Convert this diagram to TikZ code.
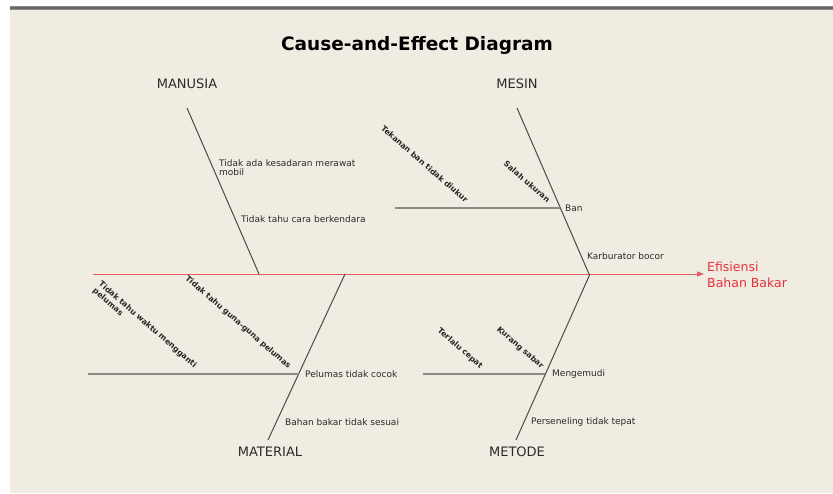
\documentclass[tikz,border=0pt]{standalone}
\usepackage{fontspec}
\setmainfont{DejaVu Sans}
\usetikzlibrary{arrows.meta}
\definecolor{bg}{HTML}{F0ECE2}
\definecolor{txt}{HTML}{2A2A2A}
\definecolor{bonec}{HTML}{4A4A48}
\definecolor{twigc}{HTML}{8C8A84}
\definecolor{spinec}{HTML}{E06060}
\definecolor{effc}{HTML}{E8303A}
\definecolor{topline}{HTML}{8A8A8A}
\begin{document}
\begin{tikzpicture}[x=1pt,y=-1pt,
  title/.style={font=\fontsize{18.5}{22}\selectfont\bfseries, text=black, inner sep=0},
  cat/.style={font=\fontsize{13}{15}\selectfont, text=txt, inner sep=0},
  cause/.style={font=\fontsize{9}{9.5}\selectfont, text=txt, inner sep=0, anchor=west, align=left},
  sub/.style={font=\fontsize{7.8}{9}\selectfont\bfseries, text=black!85, rotate=-41, anchor=south east, inner sep=0.5pt, align=left},
  effect/.style={font=\fontsize{12.5}{16}\selectfont, text=effc, inner sep=0, anchor=west, align=left},
  bone/.style={draw=bonec, line width=1pt},
  twig/.style={draw=twigc, line width=1.5pt},
  spine/.style={draw=spinec, line width=0.8pt, -{Triangle[length=7pt,width=5pt]}, shorten >=3pt}]
\useasboundingbox (0,0) rectangle (833,493);
\fill[white] (0,0) rectangle (833,493);
\fill[bg] (10,10) rectangle (833,493);
\fill[topline] (10,6) rectangle (833,10);
\fill[black!60] (10,7) rectangle (833,8.5);

\node[title] (ttl) at (417,45) {Cause-and-Effect Diagram};

% category labels
\node[cat] (manusia) at (187,84) {MANUSIA};
\node[cat] (mesin) at (517,84) {MESIN};
\node[cat] (material) at (270,452) {MATERIAL};
\node[cat] (metode) at (517,452) {METODE};

% effect
\node[effect] (eff) at (707,275) {Efisiensi\\Bahan Bakar};

% spine
\coordinate (tail) at (93,274);
\draw[spine] (tail) -- (eff.west |- tail);

% bones
\coordinate (manT) at (187,108); \coordinate (manB) at (259,274);
\coordinate (mesT) at (517,108); \coordinate (mesB) at (589,274);
\coordinate (matT) at (345,274); \coordinate (matB) at (268,440);
\coordinate (metT) at (590,274); \coordinate (metB) at (516,440);
\draw[bone] (manT) -- (manB);
\draw[bone] (mesT) -- (mesB);
\draw[bone] (matT) -- (matB);
\draw[bone] (metT) -- (metB);

% MANUSIA causes
\node[cause] (kesadaran) at (219,167.5) {Tidak ada kesadaran merawat\\mobil};
\node[cause] (berkendara) at (241,219) {Tidak tahu cara berkendara};

% MESIN causes
\coordinate (banL) at (395,208); \coordinate (banR) at (560.4,208);
\draw[twig] (banL) -- (banR);
\node[cause] (ban) at (565,208) {Ban};
\node[sub] (tekanan) at (465,204) {Tekanan ban tidak diukur};
\node[sub] (salah) at (547,204) {Salah ukuran};
\node[cause] (karburator) at (587,256) {Karburator bocor};

% MATERIAL causes
\coordinate (pelL) at (88,374); \coordinate (pelR) at (298.6,374);
\draw[twig] (pelL) -- (pelR);
\node[cause] (pelumas) at (305,374) {Pelumas tidak cocok};
\node[sub] (waktu) at (187,377) {Tidak tahu waktu mengganti\\pelumas};
\node[sub] (guna) at (287,371) {Tidak tahu guna-guna pelumas};
\node[cause] (bbm) at (285,422) {Bahan bakar tidak sesuai};

% METODE causes
\coordinate (menL) at (423,374); \coordinate (menR) at (545.4,374);
\draw[twig] (menL) -- (menR);
\node[cause] (mengemudi) at (552,374) {Mengemudi};
\node[sub] (cepat) at (479,371) {Terlalu cepat};
\node[sub] (sabar) at (540,371) {Kurang sabar};
\node[cause] (perseneling) at (531,422) {Perseneling tidak tepat};
\end{tikzpicture}
\end{document}
